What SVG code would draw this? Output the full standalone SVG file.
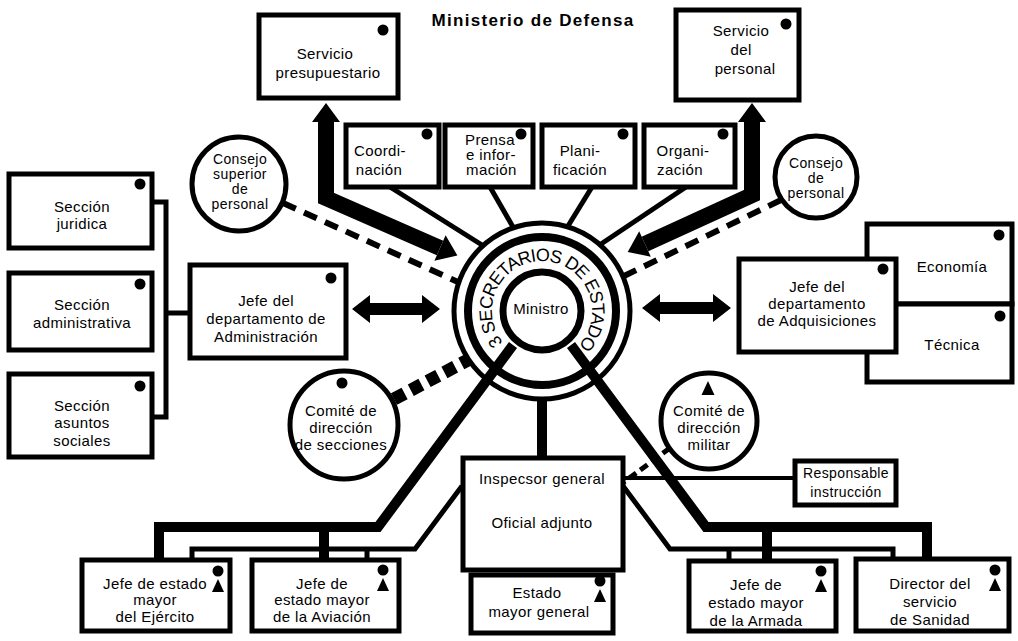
<svg xmlns="http://www.w3.org/2000/svg" xmlns:xlink="http://www.w3.org/1999/xlink" width="1018" height="641" viewBox="0 0 1018 641">
<style>
.box{fill:#fff;stroke:#000;stroke-width:5}
.circ{fill:#fff;stroke:#000;stroke-width:5}
.t{font-family:"Liberation Sans",Arial,sans-serif;font-size:15px;fill:#000;text-anchor:middle;letter-spacing:0.4px}
.ts{text-anchor:start}
.sm{font-size:14px}
.ln{fill:none;stroke:#000;stroke-linejoin:miter}
.thick{stroke-width:10}
.thin{stroke-width:5}
.arr{stroke-width:16}
</style>
<defs>
<circle id="dot" r="5.5" fill="#000"/>
<path id="tri" d="M0,-7 L6.5,7 L-6.5,7 Z" fill="#000"/>
<g id="person"><circle r="5.5" cy="0" fill="#000"/><path d="M0,8 L6,21 L-6,21 Z" fill="#000"/></g>
<path id="arcpath" d="M503.1,342.5 A50,50 0 1 1 577.4,346.4" fill="none"/>
</defs>
<rect width="1018" height="641" fill="#fff"/>

<text class="t" x="533" y="26" style="font-weight:bold;font-size:17px;letter-spacing:1.3px">Ministerio de Defensa</text>

<g id="ministro">
<circle cx="542" cy="311" r="88" fill="#fff" stroke="#000" stroke-width="5"/>
<circle cx="542" cy="311" r="74" fill="none" stroke="#000" stroke-width="8"/>
<circle cx="542" cy="311" r="39" fill="#fff" stroke="#000" stroke-width="7"/>
<text class="t" style="font-size:18px;letter-spacing:0;text-anchor:start"><textPath xlink:href="#arcpath" textLength="229" lengthAdjust="spacing">3 SECRETARIOS DE ESTADO</textPath></text>
<text class="t" x="541" y="314" style="font-size:15px">Ministro</text>
</g>

<g id="connectors">
<line class="ln thin" x1="390" y1="187" x2="482" y2="245"/>
<line class="ln thin" x1="490" y1="187" x2="513" y2="227"/>
<line class="ln thin" x1="592" y1="187" x2="568" y2="226"/>
<line class="ln thin" x1="686" y1="187" x2="601" y2="244"/>
<polyline class="ln arr" points="326,120 326,198 440,248"/>
<path d="M326,103 L340,122 L312,122 Z M457.4,255.6 L434.4,260.8 L445.6,235.2 Z" fill="#000"/>
<polyline class="ln arr" points="752,120 752,195 645,244"/>
<path d="M752,103 L766,122 L738,122 Z M627.7,251.9 L650.8,256.7 L639.2,231.3 Z" fill="#000"/>
<line class="ln" stroke-width="6" stroke-dasharray="14 9" x1="283" y1="203" x2="458" y2="282"/>
<line class="ln" stroke-width="6" stroke-dasharray="14 9" x1="781" y1="200" x2="624" y2="276"/>
<line class="ln" stroke-width="13" stroke-dasharray="12 7" x1="394" y1="399" x2="468" y2="360"/>
<line class="ln" stroke-width="5" stroke-dasharray="9 5" x1="670" y1="448" x2="624" y2="482"/>
<polyline class="ln thin" points="152,202 166,202 166,417 152,417"/>
<line class="ln thin" x1="166" y1="313" x2="190" y2="313"/>
<path d="M352,309 L370,295 L370,303 L422,303 L422,295 L440,309 L422,323 L422,315 L370,315 L370,323 Z" fill="#000"/>
<path d="M642,308 L660,294 L660,302 L713,302 L713,294 L731,308 L713,322 L713,314 L660,314 L660,322 Z" fill="#000"/>
<line class="ln thick" x1="542" y1="398" x2="542" y2="459"/>
<polyline class="ln thick" points="513,345 378,527 159,527 159,560"/>
<line class="ln thick" x1="324" y1="527" x2="324" y2="560"/>
<polyline class="ln thick" points="571,345 706,527 927,527 927,558"/>
<line class="ln thick" x1="767" y1="527" x2="767" y2="560"/>
<polyline class="ln thin" points="462,486 415,549 192,549 192,560"/>
<line class="ln thin" x1="367" y1="549" x2="367" y2="560"/>
<polyline class="ln thin" points="623,486 670,549 893,549 893,558"/>
<line class="ln thin" x1="729" y1="549" x2="729" y2="560"/>
<line class="ln" stroke-width="4" x1="623" y1="478" x2="795" y2="478"/>
</g>

<g id="servicio-presupuestario">
<rect class="box" x="259" y="15" width="139" height="83"/>
<use href="#dot" x="383" y="30"/>
<text class="t" x="325" y="59">Servicio</text>
<text class="t" x="328" y="78">presupuestario</text>
</g>
<g id="servicio-personal">
<rect class="box" x="676" y="10" width="123" height="90"/>
<use href="#dot" x="786" y="24"/>
<text class="t" x="741" y="36">Servicio</text>
<text class="t" x="741" y="55">del</text>
<text class="t" x="745" y="74">personal</text>
</g>

<g id="coordinacion">
<rect class="box" x="346" y="125" width="93" height="62"/>
<use href="#dot" x="427" y="134"/>
<text class="t" x="380" y="156">Coordi-</text>
<text class="t" x="379" y="175">nación</text>
</g>
<g id="prensa">
<rect class="box" x="445" y="125" width="88" height="62"/>
<use href="#dot" x="521" y="134"/>
<text class="t ts" x="465" y="145">Prensa</text>
<text class="t ts" x="466" y="160">e infor-</text>
<text class="t ts" x="466" y="175">mación</text>
</g>
<g id="planificacion">
<rect class="box" x="542" y="125" width="93" height="62"/>
<use href="#dot" x="623" y="134"/>
<text class="t" x="580" y="156">Plani-</text>
<text class="t" x="580" y="175">ficación</text>
</g>
<g id="organizacion">
<rect class="box" x="644" y="125" width="91" height="62"/>
<use href="#dot" x="723" y="134"/>
<text class="t" x="683" y="156">Organi-</text>
<text class="t" x="680" y="175">zación</text>
</g>

<g id="consejo-superior">
<circle class="circ" cx="239" cy="184" r="47"/>
<text class="t sm" x="240" y="164">Consejo</text>
<text class="t sm" x="240" y="179">superior</text>
<text class="t sm" x="240" y="194">de</text>
<text class="t sm" x="240" y="209">personal</text>
</g>
<g id="consejo-personal">
<circle class="circ" cx="816" cy="177" r="41"/>
<text class="t sm" x="816" y="168">Consejo</text>
<text class="t sm" x="816" y="183">de</text>
<text class="t sm" x="816" y="198">personal</text>
</g>

<g id="seccion-juridica">
<rect class="box" x="9" y="174" width="143" height="74"/>
<use href="#dot" x="140" y="184"/>
<text class="t" x="82" y="212">Sección</text>
<text class="t" x="82" y="229">juridica</text>
</g>
<g id="seccion-administrativa">
<rect class="box" x="9" y="273" width="143" height="77"/>
<use href="#dot" x="140" y="284"/>
<text class="t" x="82" y="310">Sección</text>
<text class="t" x="82" y="328">administrativa</text>
</g>
<g id="seccion-asuntos">
<rect class="box" x="9" y="374" width="143" height="83"/>
<use href="#dot" x="140" y="386"/>
<text class="t" x="82" y="411">Sección</text>
<text class="t" x="82" y="428">asuntos</text>
<text class="t" x="82" y="446">sociales</text>
</g>

<g id="jefe-administracion">
<rect class="box" x="190" y="265" width="156" height="93"/>
<use href="#dot" x="331" y="278"/>
<text class="t" x="266" y="306">Jefe del</text>
<text class="t" x="266" y="324">departamento de</text>
<text class="t" x="266" y="342">Administración</text>
</g>

<g id="economia">
<rect class="box" x="867" y="224" width="145" height="80"/>
<use href="#dot" x="999" y="235"/>
<text class="t" x="952" y="272">Economía</text>
</g>
<g id="tecnica">
<rect class="box" x="867" y="304" width="145" height="78"/>
<use href="#dot" x="1000" y="316"/>
<text class="t" x="952" y="350">Técnica</text>
</g>
<g id="jefe-adquisiciones">
<rect class="box" x="739" y="259" width="157" height="93"/>
<use href="#dot" x="883" y="269"/>
<text class="t" x="817" y="292">Jefe del</text>
<text class="t" x="817" y="309">departamento</text>
<text class="t" x="817" y="326">de Adquisiciones</text>
</g>

<g id="comite-secciones">
<circle class="circ" cx="344" cy="425" r="54"/>
<use href="#dot" x="342" y="383"/>
<text class="t" x="341" y="416">Comité de</text>
<text class="t" x="341" y="433">dirección</text>
<text class="t" x="341" y="450">de secciones</text>
</g>
<g id="comite-militar">
<circle class="circ" cx="709" cy="421" r="48"/>
<use href="#tri" x="708" y="388"/>
<text class="t" x="709" y="416">Comité de</text>
<text class="t" x="709" y="433">dirección</text>
<text class="t" x="709" y="450">militar</text>
</g>

<g id="inspecsor">
<rect class="box" x="463" y="458" width="160" height="112"/>
<text class="t" x="542" y="484">Inspecsor general</text>
<text class="t" x="542" y="528">Oficial adjunto</text>
</g>
<g id="responsable">
<rect class="box" x="795" y="461" width="101" height="44"/>
<text class="t sm" x="846" y="478">Responsable</text>
<text class="t sm" x="846" y="497">instrucción</text>
</g>

<g id="jefe-ejercito">
<rect class="box" x="82" y="560" width="148" height="71"/>
<use href="#person" x="218" y="571"/>
<text class="t" x="155" y="589">Jefe de estado</text>
<text class="t" x="155" y="605">mayor</text>
<text class="t" x="155" y="622">del Ejército</text>
</g>
<g id="jefe-aviacion">
<rect class="box" x="252" y="560" width="147" height="71"/>
<use href="#person" x="383" y="570"/>
<text class="t" x="322" y="589">Jefe de</text>
<text class="t" x="322" y="605">estado mayor</text>
<text class="t" x="322" y="622">de la Aviación</text>
</g>
<g id="estado-mayor">
<rect class="box" x="471" y="575" width="142" height="58"/>
<use href="#person" x="600" y="581"/>
<text class="t" x="537" y="598">Estado</text>
<text class="t" x="539" y="617">mayor general</text>
</g>
<g id="jefe-armada">
<rect class="box" x="689" y="561" width="147" height="70"/>
<use href="#person" x="821" y="571"/>
<text class="t" x="756" y="590">Jefe de</text>
<text class="t" x="756" y="608">estado mayor</text>
<text class="t" x="756" y="626">de la Armada</text>
</g>
<g id="director-sanidad">
<rect class="box" x="856" y="559" width="153" height="72"/>
<use href="#person" x="995" y="570"/>
<text class="t" x="930" y="589">Director del</text>
<text class="t" x="930" y="607">servicio</text>
<text class="t" x="930" y="625">de Sanidad</text>
</g>
</svg>
